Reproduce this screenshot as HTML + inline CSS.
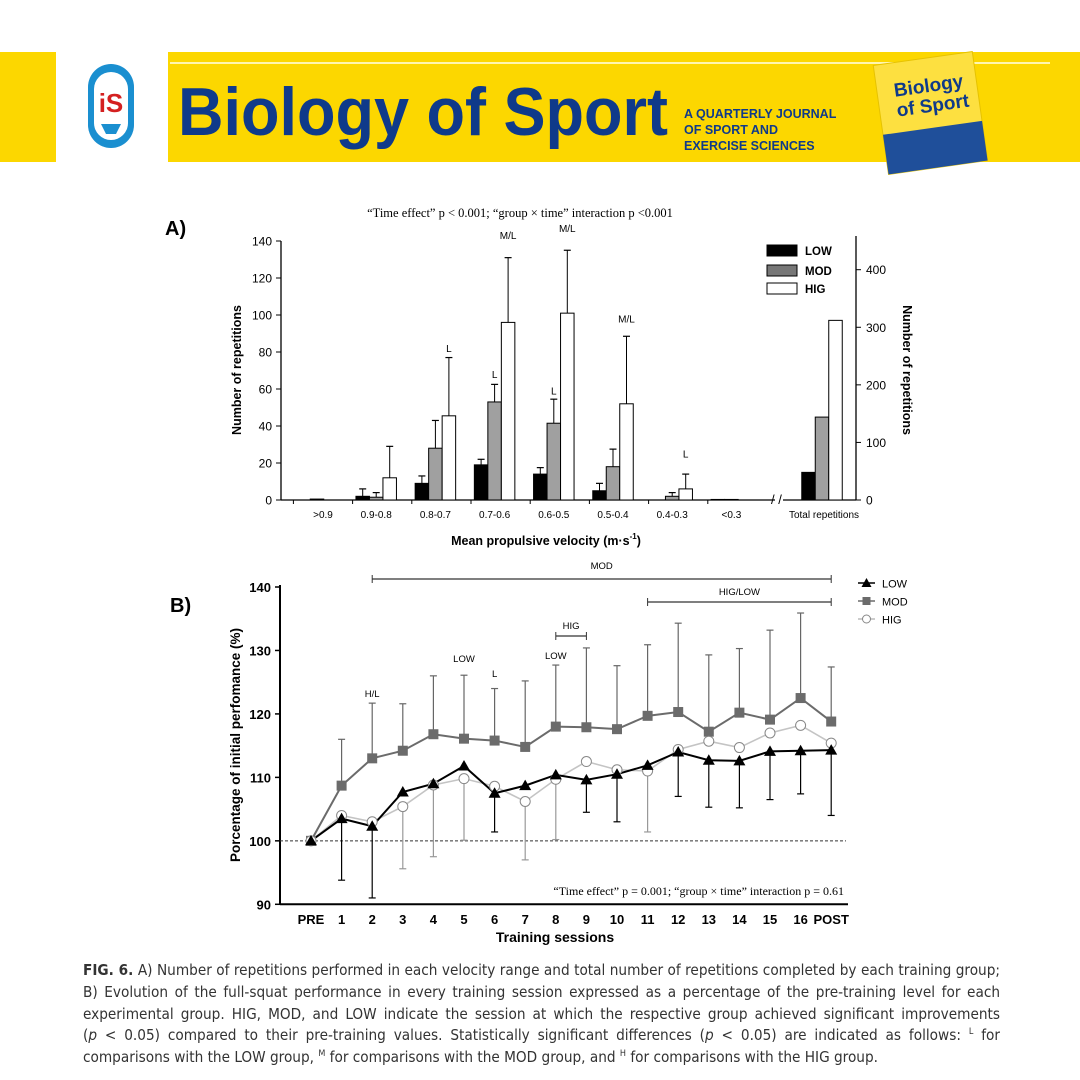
<!DOCTYPE html>
<html><head><meta charset="utf-8">
<style>
html,body{margin:0;padding:0;background:#fff;}
body{width:1080px;height:1080px;position:relative;overflow:hidden;font-family:"Liberation Sans",sans-serif;}
#cap{position:absolute;left:83px;top:960px;width:917px;font-size:15.2px;line-height:21.8px;color:#333;font-family:"DejaVu Sans Condensed","Liberation Sans Narrow","Liberation Sans",sans-serif;}
#cap div{white-space:nowrap;text-align:justify;text-align-last:justify;height:21.8px;}
#cap div.last{text-align-last:left;}
#cap sup{font-size:9px;line-height:0;}
</style></head><body>
<svg id="svg" width="1080" height="1080" viewBox="0 0 1080 1080" style="position:absolute;left:0;top:0" font-family="Liberation Sans, sans-serif">
 <g>
  <rect x="0" y="52" width="56" height="110" fill="#fcd700"/>
  <rect x="168" y="52" width="912" height="110" fill="#fcd700"/>
  <line x1="170" y1="63" x2="1050" y2="63" stroke="#fff6b0" stroke-width="2"/>
  <g>
   <rect x="88" y="64" width="46" height="84" rx="23" fill="#1a8fd0"/>
   <rect x="94" y="72" width="34" height="68" rx="17" fill="#fff"/>
   <text x="111" y="112" font-size="26" font-weight="bold" fill="#d42020" text-anchor="middle">iS</text>
   <path d="M101 124 L121 124 L116 134 L106 134 Z" fill="#1a8fd0"/>
  </g>
  <text x="178" y="135" font-size="68" font-weight="bold" fill="#0f3a8a" textLength="490" lengthAdjust="spacingAndGlyphs">Biology of Sport</text>
  <text x="684" y="118" font-size="12.5" font-weight="bold" fill="#0f3a8a">A QUARTERLY JOURNAL</text>
  <text x="684" y="134" font-size="12.5" font-weight="bold" fill="#0f3a8a">OF SPORT AND</text>
  <text x="684" y="150" font-size="12.5" font-weight="bold" fill="#0f3a8a">EXERCISE SCIENCES</text>
  <g transform="rotate(-8 930 110)">
   <rect x="880" y="58" width="100" height="110" fill="#fde040" stroke="#e6c200"/>
   <rect x="880" y="128" width="100" height="40" fill="#1f4f9a"/>
   <text x="897" y="92" font-size="19" font-weight="bold" fill="#0f3a8a">Biology</text>
   <text x="897" y="112" font-size="19" font-weight="bold" fill="#0f3a8a">of Sport</text>
  </g>
 </g>
 <text x="165" y="235" font-size="20" font-weight="bold">A)</text>
 <text x="170" y="612" font-size="20" font-weight="bold">B)</text>
 <g id="chartA"></g>
 <g id="chartB"></g>
</svg>
<div id="cap">
<div><b>FIG. 6.</b> A) Number of repetitions performed in each velocity range and total number of repetitions completed by each training group;</div>
<div>B) Evolution of the full-squat performance in every training session expressed as a percentage of the pre-training level for each</div>
<div>experimental group. HIG, MOD, and LOW indicate the session at which the respective group achieved significant improvements</div>
<div>(<i>p</i> &lt; 0.05) compared to their pre-training values. Statistically significant differences (<i>p</i> &lt; 0.05) are indicated as follows: <sup>L</sup> for</div>
<div class="last">comparisons with the LOW group, <sup>M</sup> for comparisons with the MOD group, and <sup>H</sup> for comparisons with the HIG group.</div>
</div>
<script>
// ---------- Chart A data ----------
const catsA = [">0.9","0.9-0.8","0.8-0.7","0.7-0.6","0.6-0.5","0.5-0.4","0.4-0.3","<0.3"];
const lowA = [0, 2, 9, 19, 14, 5, 0, 0.3];
const modA = [0.5, 1.5, 28, 53, 41.5, 18, 2, 0.3];
const higA = [0, 12, 45.5, 96, 101, 52, 6, 0];
const lowErrA = [null, 6, 13, 22, 17.5, 9, null, null];
const modErrA = [null, 4, 43, 62.5, 54.5, 27.5, 4, null];
const higErrA = [null, 29, 77, 131, 135, 88.5, 14, null];
const totalA = [48, 144, 312];
const leftTicksA = [0,20,40,60,80,100,120,140];
const rightTicksA = [0,100,200,300,400];
const annotA = [["L",2,2,80],["L",3,1,66],["M/L",3,2,141],["M/L",4,2,145],["L",4,1,57],["M/L",5,2,96],["L",6,2,23]];

// ---------- Chart B data ----------
const sessionsB = ["PRE","1","2","3","4","5","6","7","8","9","10","11","12","13","14","15","16","POST"];
const lowB = [100,103.5,102.3,107.7,109,111.8,107.5,108.7,110.4,109.6,110.5,111.9,114,112.7,112.6,114.1,114.2,114.3];
const modB = [100,108.7,113,114.2,116.8,116.1,115.8,114.8,118,117.9,117.6,119.7,120.3,117.2,120.2,119.1,122.5,118.8];
const higB = [100,104,103,105.4,108.8,109.8,108.6,106.2,109.7,112.5,111.2,111,114.4,115.7,114.7,117,118.2,115.4];
const lowErrB = [null,93.8,91,null,null,null,101.4,null,null,104.5,103,null,107,105.3,105.2,106.5,107.4,104];
const modErrB = [null,116,121.7,121.6,126,126.1,124,125.2,127.7,130.4,127.6,130.9,134.3,129.3,130.3,133.2,135.9,127.4];
const higErrB = [null,null,null,95.6,97.5,100.1,null,97,100.2,null,null,101.4,null,null,null,null,null,null];
const yTicksB = [90,100,110,120,130,140];

const NS="http://www.w3.org/2000/svg";
function mk(parent,tag,attrs,text){const e=document.createElementNS(NS,tag);for(const k in attrs)e.setAttribute(k,attrs[k]);if(text!==undefined)e.textContent=text;parent.appendChild(e);return e;}

// ===== Chart A =====
(function(){
 const g=document.getElementById('chartA');
 const X0=281, XR=856, Y0=500, Y140=241;
 const yL=v=>Y0-(v/140)*(Y0-Y140);
 const yR=v=>Y0-(v/400)*(Y0-269.7);
 const cx=i=>323+i*59.2;
 const bw=13.5;
 let e;
 e=mk(g,'text',{x:520,y:217,'font-size':12.5,'font-family':'Liberation Serif, serif','text-anchor':'middle'},'“Time effect” p < 0.001; “group × time” interaction p <0.001');
 
 
 mk(g,'line',{x1:X0,y1:Y140,x2:X0,y2:Y0,stroke:'#000','stroke-width':1.3});
 mk(g,'line',{x1:X0,y1:Y0,x2:775,y2:Y0,stroke:'#000','stroke-width':1.3});
 mk(g,'line',{x1:783,y1:Y0,x2:XR,y2:Y0,stroke:'#000','stroke-width':1.3});
 mk(g,'line',{x1:XR,y1:236,x2:XR,y2:Y0,stroke:'#000','stroke-width':1.3});
 e=mk(g,'text',{x:771,y:504,'font-size':13},'/ /');
 
 
 leftTicksA.forEach(t=>{const y=yL(t);mk(g,'line',{x1:X0-5,y1:y,x2:X0,y2:y,stroke:'#000'});
  e=mk(g,'text',{x:X0-9,y:y+4.5,'font-size':12,'text-anchor':'end'},t);
  
  });
 rightTicksA.forEach(t=>{const y=yR(t);mk(g,'line',{x1:XR,y1:y,x2:XR+5,y2:y,stroke:'#000'});
  e=mk(g,'text',{x:XR+10,y:y+4.5,'font-size':12},t);
  
  });
 catsA.forEach((c,i)=>{mk(g,'line',{x1:cx(i)-29.6,y1:Y0,x2:cx(i)-29.6,y2:Y0+4,stroke:'#000'});
  e=mk(g,'text',{x:cx(i)+(i==0?0:-6),y:518,'font-size':10,'text-anchor':'middle'},c);
  
  });
 e=mk(g,'text',{x:824,y:518,'font-size':10,'text-anchor':'middle'},'Total repetitions');
 
 
 const series=[[lowA,lowErrA,'#000',-1],[modA,modErrA,'#a0a0a0',0],[higA,higErrA,'#fff',1]];
 series.forEach(([vals,errs,fill,off],si)=>{
  vals.forEach((v,i)=>{
   const c=cx(i)-6+off*bw;
   const x=c-bw/2;
   if(errs[i]!=null){const ye=yL(errs[i]);mk(g,'line',{x1:c,y1:ye,x2:c,y2:yL(v),stroke:'#000','stroke-width':1});mk(g,'line',{x1:c-3.5,y1:ye,x2:c+3.5,y2:ye,stroke:'#000','stroke-width':1.2});}
   if(v>0){e=mk(g,'rect',{x:x,y:yL(v),width:bw,height:Y0-yL(v),fill:fill,stroke:'#000','stroke-width':1});
    
    }
  });
  const tv=totalA[si];const c=822+off*bw;
  e=mk(g,'rect',{x:c-bw/2,y:yR(tv),width:bw,height:Y0-yR(tv),fill:fill,stroke:'#000','stroke-width':1});
  
  
 });
 annotA.forEach(([t,i,s,v])=>{const c=cx(i)-6+(s-1)*bw;
  e=mk(g,'text',{x:c,y:yL(v),'font-size':10,'text-anchor':'middle'},t);
  
  });
 [['LOW','#000',245],['MOD','#777',265],['HIG','#fff',283]].forEach(([n,f,y])=>{
  e=mk(g,'rect',{x:767,y:y,width:30,height:11,fill:f,stroke:'#000'});
  
  
  e=mk(g,'text',{x:805,y:y+10,'font-size':11.5,'font-weight':'bold'},n);
  
  });
 e=mk(g,'text',{x:546,y:545,'font-size':12.5,'font-weight':'bold','text-anchor':'middle'});
 
 
 mk(e,'tspan',{},'Mean propulsive velocity (m·s');
 mk(e,'tspan',{'font-size':8,dy:-6},'-1');
 mk(e,'tspan',{dy:6},')');
 e=mk(g,'text',{x:241,y:370,'font-size':12.5,'font-weight':'bold','text-anchor':'middle',transform:'rotate(-90 241 370)'},'Number of repetitions');
 
 
 e=mk(g,'text',{x:903,y:370,'font-size':12.5,'font-weight':'bold','text-anchor':'middle',transform:'rotate(90 903 370)'},'Number of repetitions');
 
 
})();

// ===== Chart B =====
(function(){
 const g=document.getElementById('chartB');
 const X0=280, Y90=904.3, Y140=587;
 const y=v=>Y90-(v-90)/50*(Y90-Y140);
 const x=i=>311+i*30.6;
 let e;
 mk(g,'line',{x1:X0,y1:Y140-2,x2:X0,y2:Y90,stroke:'#000','stroke-width':2});
 mk(g,'line',{x1:X0,y1:Y90,x2:848,y2:Y90,stroke:'#000','stroke-width':2});
 yTicksB.forEach(t=>{mk(g,'line',{x1:X0-5,y1:y(t),x2:X0,y2:y(t),stroke:'#000','stroke-width':1.5});
  e=mk(g,'text',{x:X0-9,y:y(t)+5,'font-size':13,'font-weight':'bold','text-anchor':'end'},t);
  
  });
 sessionsB.forEach((s,i)=>{
  e=mk(g,'text',{x:x(i),y:924,'font-size':13,'font-weight':'bold','text-anchor':'middle'},s);
  
  });
 e=mk(g,'line',{x1:X0,y1:y(100),x2:846,y2:y(100),stroke:'#333','stroke-width':1,'stroke-dasharray':'3,2'});
 
 
 const errs=[[higErrB,higB,'#999'],[modErrB,modB,'#666'],[lowErrB,lowB,'#000']];
 errs.forEach(([er,v,col])=>er.forEach((val,i)=>{if(val==null)return;
  mk(g,'line',{x1:x(i),y1:y(val),x2:x(i),y2:y(v[i]),stroke:col,'stroke-width':1.2});
  mk(g,'line',{x1:x(i)-3.5,y1:y(val),x2:x(i)+3.5,y2:y(val),stroke:col,'stroke-width':1.2});}));
 const line=(v,col,w)=>mk(g,'polyline',{points:v.map((d,i)=>x(i)+','+y(d)).join(' '),fill:'none',stroke:col,'stroke-width':w});
 e=line(modB,'#6b6b6b',2);
 
 
 e=line(higB,'#c4c4c4',1.6);
 
 
 e=line(lowB,'#000',2);
 
 
 modB.forEach((d,i)=>{e=mk(g,'rect',{x:x(i)-5,y:y(d)-5,width:10,height:10,fill:'#6b6b6b'});
  
  });
 higB.forEach((d,i)=>{e=mk(g,'circle',{cx:x(i),cy:y(d),r:5,fill:'#fff',stroke:'#888','stroke-width':1});
  
  });
 lowB.forEach((d,i)=>{e=mk(g,'path',{d:`M${x(i)} ${y(d)-6} L${x(i)+6} ${y(d)+4.5} L${x(i)-6} ${y(d)+4.5} Z`,fill:'#000'});
  
  });
 const br=(i1,i2,yy,label,ty)=>{const b=mk(g,'g',{});
  
  
  mk(b,'line',{x1:x(i1),y1:yy,x2:x(i2),y2:yy,stroke:'#333','stroke-width':1.2});
  mk(b,'line',{x1:x(i1),y1:yy-4,x2:x(i1),y2:yy+4,stroke:'#333'});
  mk(b,'line',{x1:x(i2),y1:yy-4,x2:x(i2),y2:yy+4,stroke:'#333'});
  mk(b,'text',{x:(x(i1)+x(i2))/2,y:ty,'font-size':9.5,'text-anchor':'middle'},label);};
 br(2,17,579,'MOD',569);
 br(11,17,602,'HIG/LOW',595);
 br(8,9,636,'HIG',629);
 [['LOW',5,662],['L',6,677],['LOW',8,659],['H/L',2,697]].forEach(([t,i,yy])=>{
  e=mk(g,'text',{x:x(i),y:yy,'font-size':9.5,'text-anchor':'middle'},t);
  
  });
 const L=[['LOW',583],['MOD',601],['HIG',619]];
 L.forEach(([n,yy],k)=>{
  const lg=mk(g,'g',{});
  
  
  const col=['#000','#6b6b6b','#bbb'][k];
  mk(lg,'line',{x1:858,y1:yy,x2:875,y2:yy,stroke:col,'stroke-width':1.5});
  if(k==0)mk(lg,'path',{d:`M866.5 ${yy-5} L871.5 ${yy+4} L861.5 ${yy+4} Z`,fill:'#000'});
  if(k==1)mk(lg,'rect',{x:862.5,y:yy-4,width:8,height:8,fill:'#6b6b6b'});
  if(k==2)mk(lg,'circle',{cx:866.5,cy:yy,r:4,fill:'#fff',stroke:'#888'});
  mk(lg,'text',{x:882,y:yy+4.5,'font-size':11},n);
 });
 e=mk(g,'text',{x:844,y:895,'font-size':12,'font-family':'Liberation Serif, serif','text-anchor':'end'},'“Time effect” p = 0.001; “group × time” interaction p = 0.61');
 
 
 e=mk(g,'text',{x:555,y:942,'font-size':14,'font-weight':'bold','text-anchor':'middle'},'Training sessions');
 
 
 e=mk(g,'text',{x:240,y:745,'font-size':13.5,'font-weight':'bold','text-anchor':'middle',transform:'rotate(-90 240 745)'},'Porcentage of initial perfomance (%)');
 
 
})();
</script>
</body></html>
